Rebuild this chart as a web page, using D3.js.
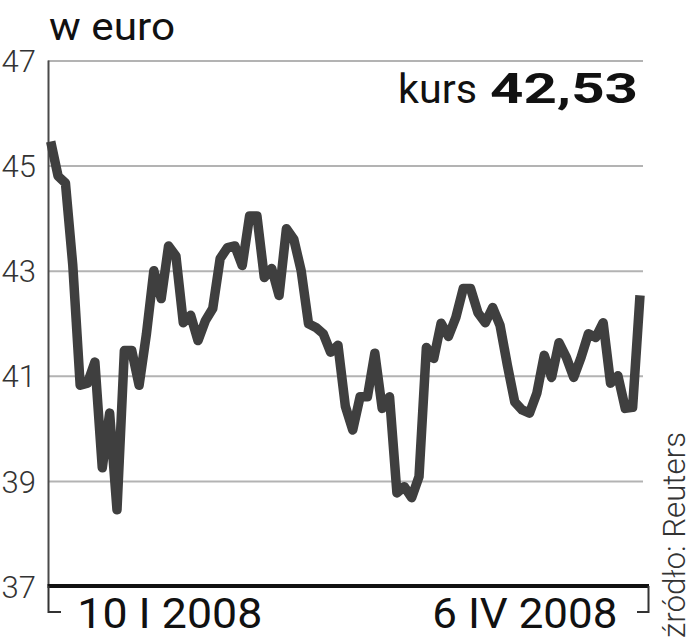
<!DOCTYPE html>
<html>
<head>
<meta charset="utf-8">
<script src="https://cdn.jsdelivr.net/npm/d3@7"></script>
<style>
  html, body { margin: 0; padding: 0; background: #fff; }
  svg { display: block; }
</style>
</head>
<body>
<svg id="chart" width="693" height="640"></svg>
<script>
// ---- data ----
const values = [
  45.46, 44.80, 44.67, 43.10, 40.82, 40.86, 41.26, 39.25, 40.29, 38.45,
  41.48, 41.48, 40.82, 41.80, 43.00, 42.47, 43.47, 43.28, 42.01, 42.15,
  41.67, 42.05, 42.28, 43.23, 43.44, 43.47, 43.10, 44.04, 44.04, 42.87,
  43.04, 42.53, 43.80, 43.60, 43.00, 41.99, 41.92, 41.80, 41.45, 41.58,
  40.42, 39.97, 40.60, 40.60, 41.43, 40.38, 40.60, 38.77, 38.89, 38.68,
  39.08, 41.54, 41.33, 42.00, 41.75, 42.11, 42.66, 42.66, 42.20, 42.01,
  42.30, 41.96, 41.20, 40.50, 40.35, 40.29, 40.67, 41.39, 40.97, 41.63,
  41.35, 40.97, 41.35, 41.80, 41.73, 42.01, 40.86, 41.00, 40.38, 40.40,
  42.53
];
const yTicks = [37, 39, 41, 43, 45, 47];
const xTickPositions = [16.1, 64.3];
const xTickLabels = ["10 I 2008", "6 IV 2008"];
const titleText = "w euro";
const kursLabel = "kurs";
const kursValue = "42,53";
const sourceText = "źródło: Reuters";

// ---- drawing ----
const svg = d3.select("#chart");
const x = d3.scaleLinear().domain([0, values.length - 1]).range([50.7, 640]);
const y = d3.scaleLinear().domain([37, 47]).range([586, 60.5]);

// y axis with gridlines
const yAxis = d3.axisLeft(y)
  .tickValues(yTicks)
  .tickSize(-595)
  .tickPadding(12)
  .tickFormat(d3.format("d"));
const gy = svg.append("g").attr("transform", "translate(48,0)").call(yAxis);
gy.select(".domain").remove();
gy.selectAll(".tick line").attr("stroke", "#b3b3b3").attr("stroke-width", 2);
gy.selectAll(".tick text")
  .attr("fill", "#333")
  .style("font-family", "Roboto, 'DejaVu Sans', sans-serif")
  .style("font-weight", 300)
  .style("font-size", "31px")
  .attr("dy", "0.36em");

// left axis line
svg.append("line")
  .attr("x1", 48.5).attr("x2", 48.5)
  .attr("y1", y(47)).attr("y2", y(37))
  .attr("stroke", "#4a4a4a").attr("stroke-width", 2);

// data line
const line = d3.line().x((d, i) => x(i)).y(d => y(d));
svg.append("path")
  .datum(values)
  .attr("d", line)
  .attr("fill", "none")
  .attr("stroke", "#3f3f3f")
  .attr("stroke-width", 9.5)
  .attr("stroke-linejoin", "round")
  .attr("stroke-linecap", "butt");

// bottom axis (thick black)
svg.append("line")
  .attr("x1", 47.5).attr("x2", 649)
  .attr("y1", y(37)).attr("y2", y(37))
  .attr("stroke", "#111").attr("stroke-width", 4);

// brackets
svg.append("path")
  .attr("d", `M48.5,${y(37)}V612H61M648.5,${y(37)}V612H637`)
  .attr("fill", "none").attr("stroke", "#333").attr("stroke-width", 2);

// x tick labels via axis
const xAxis = d3.axisBottom(x)
  .tickValues(xTickPositions)
  .tickSize(0)
  .tickPadding(0)
  .tickFormat((d, i) => xTickLabels[i]);
const gx = svg.append("g").attr("transform", "translate(0,628)").call(xAxis);
gx.select(".domain").remove();
gx.selectAll(".tick text")
  .attr("y", 0).attr("dy", 0)
  .attr("fill", "#111")
  .style("font-family", "Roboto, 'DejaVu Sans', sans-serif")
  .style("font-weight", 400)
  .style("font-size", "42px")
  .attr("textLength", 185)
  .attr("lengthAdjust", "spacingAndGlyphs");

// title
svg.append("text")
  .attr("x", 49).attr("y", 40)
  .attr("fill", "#111")
  .style("font-family", "Roboto, 'DejaVu Sans', sans-serif")
  .style("font-size", "39px")
  .attr("textLength", 126)
  .attr("lengthAdjust", "spacingAndGlyphs")
  .text(titleText);

// kurs label
svg.append("text")
  .attr("x", 398).attr("y", 103)
  .attr("fill", "#111")
  .style("font-family", "Roboto, 'DejaVu Sans', sans-serif")
  .style("font-size", "41px")
  .attr("textLength", 79)
  .attr("lengthAdjust", "spacingAndGlyphs")
  .text(kursLabel);
svg.append("text")
  .attr("x", 490).attr("y", 103)
  .attr("fill", "#111")
  .style("font-family", "Roboto, 'DejaVu Sans', sans-serif")
  .style("font-weight", 700)
  .style("font-size", "42px")
  .attr("textLength", 148)
  .attr("lengthAdjust", "spacingAndGlyphs")
  .text(kursValue);

// source, rotated
svg.append("text")
  .attr("transform", "translate(685,638) rotate(-90)")
  .attr("fill", "#333")
  .style("font-family", "Roboto, 'DejaVu Sans', sans-serif")
  .style("font-weight", 300)
  .style("font-size", "31px")
  .attr("textLength", 206)
  .attr("lengthAdjust", "spacingAndGlyphs")
  .text(sourceText);
</script>
</body>
</html>
